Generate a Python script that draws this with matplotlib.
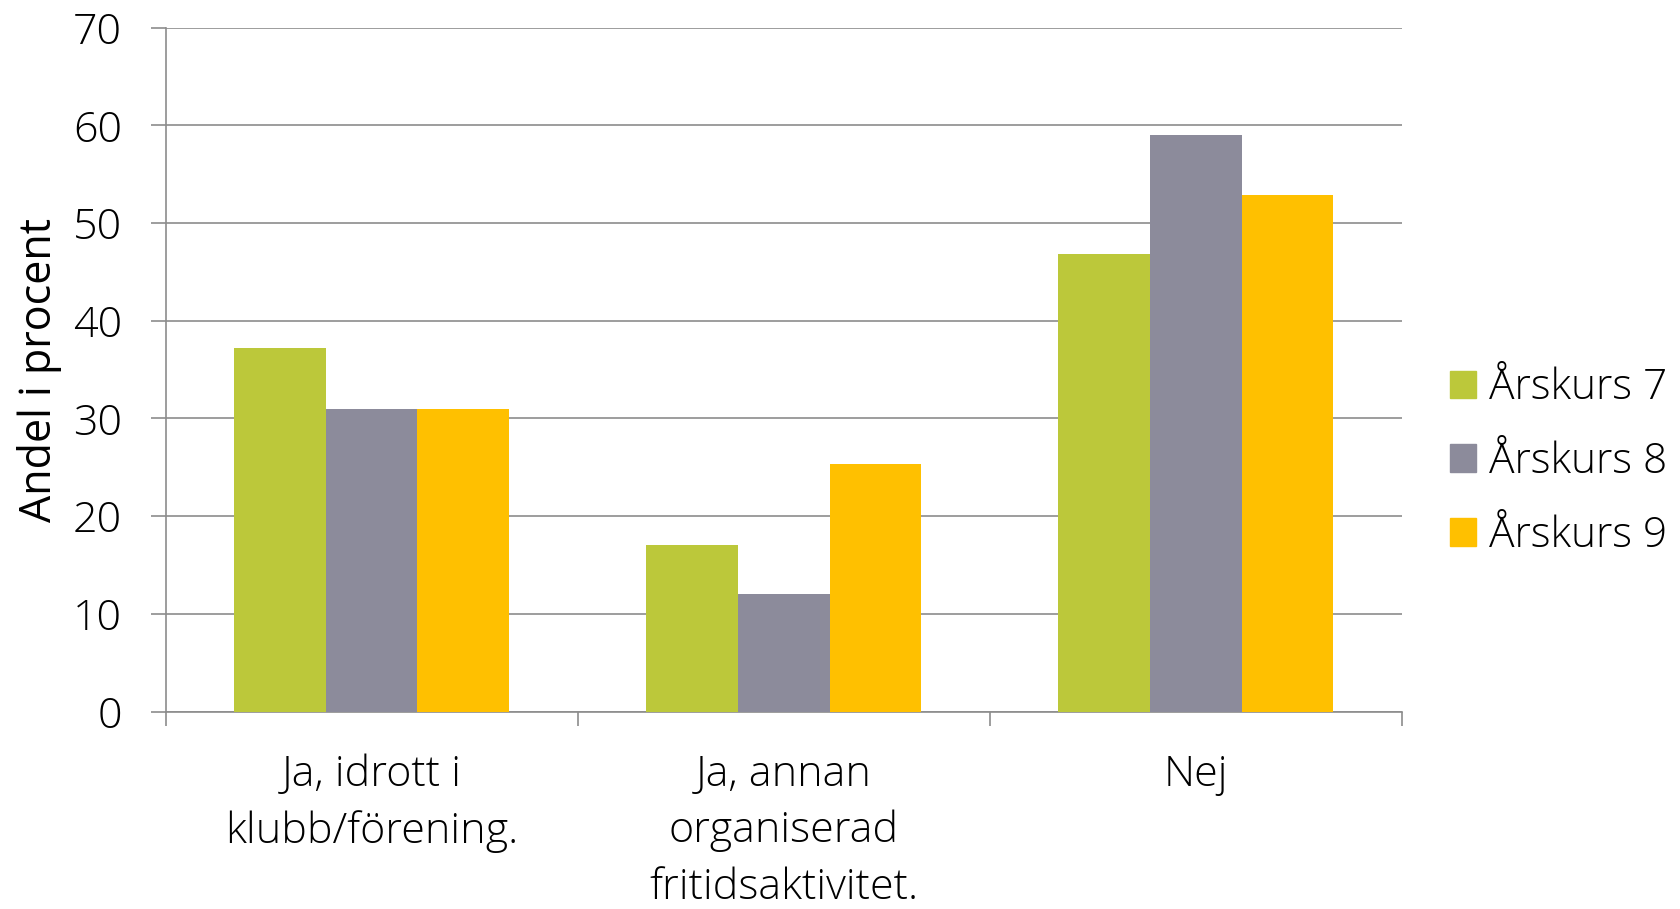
import numpy as np
import matplotlib.pyplot as plt
from matplotlib.patches import Patch

categories = ["Ja, idrott i\nklubb/förening.", "Ja, annan\norganiserad\nfritidsaktivitet.", "Nej"]
series_names = ["Årskurs 7", "Årskurs 8", "Årskurs 9"]
ak7 = [37.2, 17.0, 46.8]
ak8 = [31.0, 12.0, 59.0]
ak9 = [31.0, 25.3, 52.9]
colors = ["#BCC83A", "#8C8B9B", "#FFC000"]
yticks = [0, 10, 20, 30, 40, 50, 60, 70]

plt.rcParams['font.family'] = ['Open Sans', 'DejaVu Sans']
plt.rcParams['font.weight'] = 'light'
fs = 31
grid_col = "#8C8C8C"

fig = plt.figure(figsize=(16.8, 9.09), dpi=100)
ax = fig.add_axes([0.0986, 0.2172, 0.7358, 0.7525])

x = np.arange(len(categories))
w = 2 / 9
for i, (vals, name) in enumerate(zip([ak7, ak8, ak9], series_names)):
    ax.bar(x + (i - 1) * w, vals, width=w, color=colors[i], label=name, zorder=3)

ax.set_xlim(-0.5, 2.5)
ax.set_ylim(0, 70)
ax.set_yticks(yticks)
ax.set_yticklabels([str(t) for t in yticks], fontsize=fs)
ax.yaxis.grid(True, color=grid_col, linewidth=1.2, zorder=0)
ax.tick_params(axis='y', length=11, width=1.2, color=grid_col, pad=20.5)

ax.set_xticks(x)
ax.set_xticklabels(categories, fontsize=fs, linespacing=1.43, va='top')
ax.set_xticks([-0.5, 0.5, 1.5, 2.5], minor=True)
ax.tick_params(axis='x', which='major', length=0, pad=30)
ax.tick_params(axis='x', which='minor', length=10, width=1.2, color=grid_col)

for s in ['top', 'right']:
    ax.spines[s].set_visible(False)
for s in ['left', 'bottom']:
    ax.spines[s].set_color(grid_col)
    ax.spines[s].set_linewidth(1.2)

ax.set_ylabel("Andel i procent", fontsize=fs)
ax.yaxis.set_label_coords(-0.0836, 0.5)

handles = [Patch(color=c) for c in colors]
fig.legend(handles, series_names, loc='center left', bbox_to_anchor=(0.8506, 0.492),
           frameon=False, fontsize=30.5, handlelength=0.62, handleheight=0.62,
           handletextpad=0.3, labelspacing=0.74, borderpad=0)

fig.savefig("out.png", dpi=100)
